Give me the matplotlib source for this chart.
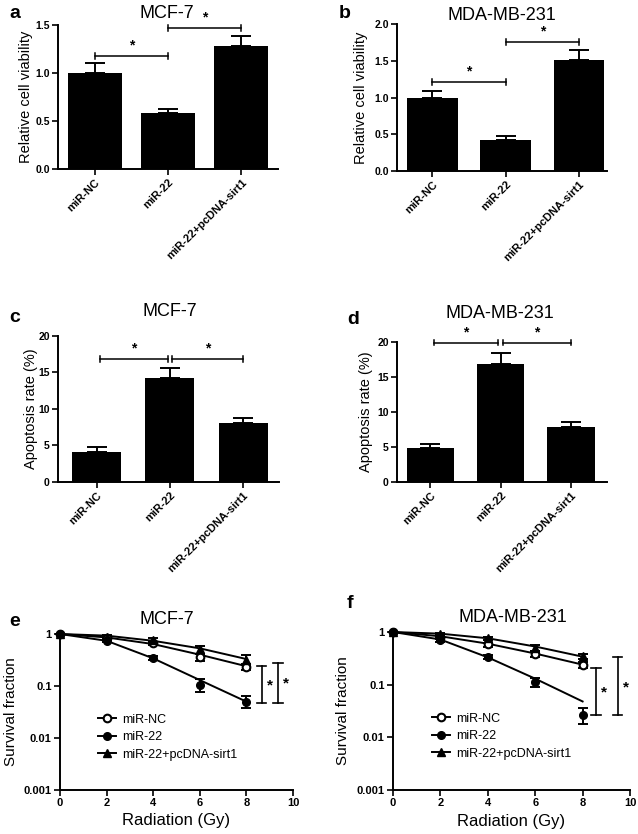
import matplotlib
matplotlib.use("Agg")
import matplotlib.pyplot as plt
import numpy as np
from matplotlib.ticker import FixedLocator, FixedFormatter, NullLocator

plt.rcParams['font.family'] = ['Liberation Sans', 'DejaVu Sans']

# ---------------- data ----------------
groups = ["miR-NC", "miR-22", "miR-22+pcDNA-sirt1"]

via_mcf7 = [1.00, 0.58, 1.28]
via_mcf7_err = [0.10, 0.05, 0.11]
via_mda = [1.00, 0.42, 1.51]
via_mda_err = [0.09, 0.05, 0.14]

apo_mcf7 = [4.1, 14.2, 8.1]
apo_mcf7_err = [0.7, 1.4, 0.7]
apo_mda = [4.8, 16.8, 7.9]
apo_mda_err = [0.6, 1.6, 0.7]

dose = [0, 2, 4, 6, 8]
series_names = ["miR-NC", "miR-22", "miR-22+pcDNA-sirt1"]

sf_mcf7_nc = [1.0, 0.83, 0.66, 0.355, 0.235]
sf_mcf7_nc_err = [0.0, 0.04, 0.05, 0.05, 0.03]
sf_mcf7_22 = [1.0, 0.74, 0.34, 0.105, 0.05]
sf_mcf7_22_err = [0.0, 0.04, 0.03, 0.03, 0.013]
sf_mcf7_s = [1.0, 0.89, 0.77, 0.51, 0.32]
sf_mcf7_s_err = [0.0, 0.05, 0.06, 0.09, 0.07]
fit_mcf7_nc = [1.0, 0.86, 0.64, 0.40, 0.24]
fit_mcf7_22 = [1.0, 0.74, 0.34, 0.13, 0.05]
fit_mcf7_s = [1.0, 0.93, 0.74, 0.53, 0.33]

sf_mda_nc = [1.0, 0.78, 0.58, 0.38, 0.24]
sf_mda_nc_err = [0.0, 0.04, 0.05, 0.05, 0.03]
sf_mda_22 = [1.0, 0.69, 0.335, 0.112, 0.027]
sf_mda_22_err = [0.0, 0.04, 0.03, 0.02, 0.009]
sf_mda_s = [1.0, 0.93, 0.77, 0.50, 0.345]
sf_mda_s_err = [0.0, 0.04, 0.05, 0.06, 0.04]
fit_mda_nc = [1.0, 0.83, 0.60, 0.39, 0.24]
fit_mda_22 = [1.0, 0.72, 0.33, 0.13, 0.048]
fit_mda_s = [1.0, 0.93, 0.76, 0.53, 0.34]

# ---------------- layout helpers ----------------
W, H = 638, 834
fig = plt.figure(figsize=(W / 100, H / 100), dpi=100)


def rect(x0, y0, x1, y1):
    # pixel box (left, top, right, bottom) -> figure fraction
    return [x0 / W, 1 - y1 / H, (x1 - x0) / W, (y1 - y0) / H]


def ftext(x, y, s, **kw):
    fig.text(x / W, 1 - y / H, s, **kw)


LW = 1.4


def style(ax, tick_fs):
    for s in ["top", "right"]:
        ax.spines[s].set_visible(False)
    for s in ["left", "bottom"]:
        ax.spines[s].set_linewidth(LW)
    ax.tick_params(direction="out", length=4, width=1.2, labelsize=tick_fs, pad=2)
    for lab in ax.get_yticklabels() + ax.get_xticklabels():
        lab.set_fontweight("bold")


def bar_panel(ax, vals, errs, width, xlim, ylim, yticks, yfmt, ylabel, label_x,
              brackets):
    x = np.arange(len(vals))
    ax.bar(x, vals, width=width, color="black", zorder=2)
    ax.errorbar(x, vals, yerr=[np.zeros(len(errs)), errs], fmt="none",
                ecolor="black", elinewidth=LW, capsize=7.5, capthick=LW, zorder=3)
    ax.set_xlim(*xlim)
    ax.set_ylim(*ylim)
    ax.set_yticks(yticks)
    ax.set_yticklabels([yfmt.format(v) for v in yticks])
    ax.set_xticks(x)
    ax.set_xticklabels(groups, rotation=45, ha="right", rotation_mode="anchor")
    ax.set_ylabel(ylabel, fontsize=10.5)
    ax.yaxis.set_label_coords(label_x, 0.5)
    style(ax, 7.5)
    for lab in ax.get_xticklabels():
        lab.set_fontsize(8)
    span = ylim[1] - ylim[0]
    for (x1, x2, y) in brackets:
        ax.plot([x1, x2], [y, y], color="black", lw=1.1, clip_on=False)
        ax.plot([x1, x1], [y - span * 0.02, y + span * 0.02], color="black", lw=1.1, clip_on=False)
        ax.plot([x2, x2], [y - span * 0.02, y + span * 0.02], color="black", lw=1.1, clip_on=False)
        ax.text((x1 + x2) / 2, y + span * 0.025, "*", ha="center", va="bottom",
                fontsize=10, fontweight="bold", clip_on=False)


# ---------------- panel a ----------------
ax_a = fig.add_axes(rect(58, 25, 278, 169))
bar_panel(ax_a, via_mcf7, via_mcf7_err, 0.74, (-0.5, 2.5), (0, 1.5), [0, 0.5, 1.0, 1.5],
          "{:.1f}", "Relative cell viability", -0.114,
          [(0, 1, 1.18), (1, 2, 1.47)])

# ---------------- panel b ----------------
ax_b = fig.add_axes(rect(397, 24, 607, 171))
bar_panel(ax_b, via_mda, via_mda_err, 0.69, (-0.48, 2.38), (0, 2.0), [0, 0.5, 1.0, 1.5, 2.0],
          "{:.1f}", "Relative cell viability", -0.138,
          [(0, 1, 1.21), (1, 2, 1.75)])

# ---------------- panel c ----------------
ax_c = fig.add_axes(rect(58, 336, 279, 482))
bar_panel(ax_c, apo_mcf7, apo_mcf7_err, 0.67, (-0.53, 2.49), (0, 20), [0, 5, 10, 15, 20],
          "{:d}", "Apoptosis rate (%)", -0.09,
          [(0.05, 0.97, 16.8), (1.03, 2.0, 16.8)])

# ---------------- panel d ----------------
ax_d = fig.add_axes(rect(397, 342, 607, 482))
bar_panel(ax_d, apo_mda, apo_mda_err, 0.67, (-0.47, 2.51), (0, 20), [0, 5, 10, 15, 20],
          "{:d}", "Apoptosis rate (%)", -0.114,
          [(0.05, 0.97, 19.9), (1.03, 2.0, 19.9)])


# ---------------- survival panels ----------------
def surv_panel(ax, data, fits, label_x, sig, leg_anchor):
    markers = [dict(marker="o", mfc="white", mec="black", mew=1.5, ms=5.5),
               dict(marker="o", mfc="black", mec="black", ms=5.5),
               dict(marker="^", mfc="black", mec="black", ms=5.5)]
    handles = []
    for (vals, errs), fit, mk, name in zip(data, fits, markers, series_names):
        ax.plot(dose, fit, color="black", lw=1.4, zorder=2, clip_on=False)
        ax.errorbar(dose, vals, yerr=errs, fmt="none", ecolor="black",
                    elinewidth=1.4, capsize=3.5, capthick=1.4, zorder=3, clip_on=False)
        ax.plot(dose, vals, linestyle="none", zorder=4, clip_on=False, **mk)
        h, = ax.plot([], [], color="black", lw=1.4, **mk)
        handles.append(h)
    ax.set_yscale("log")
    ax.set_ylim(0.001, 1)
    ax.set_xlim(0, 10)
    ax.set_xticks([0, 2, 4, 6, 8, 10])
    ax.yaxis.set_major_locator(FixedLocator([0.001, 0.01, 0.1, 1]))
    ax.yaxis.set_major_formatter(FixedFormatter(["0.001", "0.01", "0.1", "1"]))
    ax.yaxis.set_minor_locator(NullLocator())
    ax.set_ylabel("Survival fraction", fontsize=11)
    ax.yaxis.set_label_coords(label_x, 0.5)
    ax.set_xlabel("Radiation (Gy)", fontsize=12)
    ax.xaxis.set_label_coords(0.5, -0.15)
    style(ax, 8)
    for (xb, y0, y1) in sig:
        ax.plot([xb, xb], [y0, y1], color="black", lw=1.2)
        ax.plot([xb - 0.2, xb + 0.2], [y0, y0], color="black", lw=1.2)
        ax.plot([xb - 0.2, xb + 0.2], [y1, y1], color="black", lw=1.2)
        ax.text(xb + 0.35, np.sqrt(y0 * y1) * 0.95, "*", ha="center", va="center",
                fontsize=11, fontweight="bold")
    ax.legend(handles, series_names, loc="upper left", bbox_to_anchor=leg_anchor,
              frameon=False, fontsize=9, handlelength=1.4, handletextpad=0.5,
              borderpad=0, borderaxespad=0, labelspacing=0.45)


ax_e = fig.add_axes(rect(60, 634, 293, 790))
surv_panel(ax_e,
           [(sf_mcf7_nc, sf_mcf7_nc_err), (sf_mcf7_22, sf_mcf7_22_err), (sf_mcf7_s, sf_mcf7_s_err)],
           [fit_mcf7_nc, fit_mcf7_22, fit_mcf7_s], -0.18,
           [(8.65, 0.048, 0.24), (9.35, 0.048, 0.28)], (0.165, 0.49))

ax_f = fig.add_axes(rect(393, 632, 630, 790))
surv_panel(ax_f,
           [(sf_mda_nc, sf_mda_nc_err), (sf_mda_22, sf_mda_22_err), (sf_mda_s, sf_mda_s_err)],
           [fit_mda_nc, fit_mda_22, fit_mda_s], -0.181,
           [(8.57, 0.026, 0.21), (9.48, 0.026, 0.33)], (0.165, 0.49))

# ---------------- titles and panel letters ----------------
tkw = dict(ha="center", va="center", fontsize=13)
ftext(167, 14, "MCF-7", **tkw)
ftext(502, 15, "MDA-MB-231", **tkw)
ftext(170, 312, "MCF-7", **tkw)
ftext(500, 313, "MDA-MB-231", **tkw)
ftext(167, 620, "MCF-7", **tkw)
ftext(513, 617, "MDA-MB-231", **tkw)

lkw = dict(ha="center", va="center", fontsize=14, fontweight="bold")
ftext(15, 13, "a", **lkw)
ftext(345, 13, "b", **lkw)
ftext(15, 317, "c", **lkw)
ftext(353, 320, "d", **lkw)
ftext(15, 622, "e", **lkw)
ftext(350, 603, "f", **lkw)

fig.savefig("out.png", dpi=100, facecolor="white")
